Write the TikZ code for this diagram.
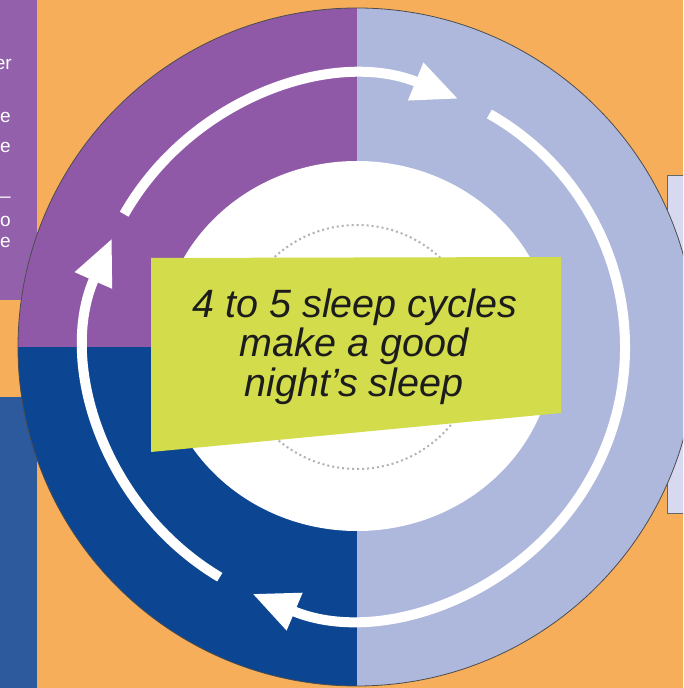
\documentclass[tikz,border=0pt]{standalone}
\usepackage{fontspec}
\setmainfont{Liberation Sans}
\usetikzlibrary{arrows.meta}
\definecolor{bgorange}{HTML}{F6AE5B}
\definecolor{qpurple}{HTML}{9059A8}
\definecolor{qlav}{HTML}{AEB8DC}
\definecolor{qnavy}{HTML}{0C4692}
\definecolor{panelblue}{HTML}{2C5A9C}
\definecolor{panelpurple}{HTML}{9361AB}
\definecolor{panellight}{HTML}{D6D9EF}
\definecolor{bannergreen}{HTML}{D3DC4B}
\definecolor{textdark}{HTML}{1C1C1C}
\tikzset{
  ringarrow/.style={draw=white, line width=10pt, -{Triangle[width=38pt,length=46pt]}},
  sidetext/.style={text=white, font=\fontsize{19}{22}\selectfont, anchor=base east, inner sep=0pt},
  maintext/.style={text=textdark, font=\fontsize{39.5}{40}\selectfont\itshape, anchor=base, inner sep=0pt}
}
\begin{document}
\begin{tikzpicture}[x=1pt,y=1pt]
\useasboundingbox (0,0) rectangle (683,688);
\clip (0,0) rectangle (683,688);
% background
\fill[bgorange] (0,0) rectangle (683,688);
% side panels
\fill[panelpurple] (0,388) rectangle (37,688);
\fill[panelblue] (0,0) rectangle (37,291);
\fill[panellight] (667,175) rectangle (700,513);
\draw[gray!80!black, line width=0.8pt] (700,175) -- (667,175) -- (667,513) -- (700,513);
% side texts
\node[sidetext] (s1) at (12,618) {er};
\node[sidetext] (s2) at (11,565) {e};
\node[sidetext] (s3) at (11,535) {e};
\node[sidetext] (s4) at (11,485) {–};
\node[sidetext] (s5) at (11,461) {o};
\node[sidetext] (s6) at (11,440) {e};
% circle
\coordinate (c) at (357,341);
\begin{scope}
  \clip (c) circle[radius=339];
  \fill[qlav] (357,0) rectangle (700,688);
  \fill[qpurple] (0,341) rectangle (357,688);
  \fill[qnavy] (0,0) rectangle (357,341);
\end{scope}
\draw[gray!60!black, line width=0.8pt] (c) circle[radius=339];
\fill[white] ([yshift=1pt]c) ellipse[x radius=197, y radius=185];
\draw[gray!60, line width=2pt, dash pattern=on 2pt off 3pt] (c) circle[radius=122];
% ring arrows
\draw[ringarrow] ([shift={(150.3:268)}]c) arc[start angle=150.3, end angle=67.8, radius=268];
\draw[ringarrow] ([shift={(60.4:268)}]c) arc[start angle=60.4, end angle=-113, radius=268];
\draw[ringarrow] ([shift={(239.2:268)}]c) arc[start angle=239.2, end angle=156.1, radius=268];
% banner
\fill[bannergreen] (151,430) -- (561,431) -- (561,275) -- (151,236) -- cycle;
\node[maintext] (t1) at (355,370) {4 to 5 sleep cycles};
\node[maintext] (t2) at (354,331) {make a good};
\node[maintext] (t3) at (354,291) {night’s sleep};
\end{tikzpicture}
\end{document}
